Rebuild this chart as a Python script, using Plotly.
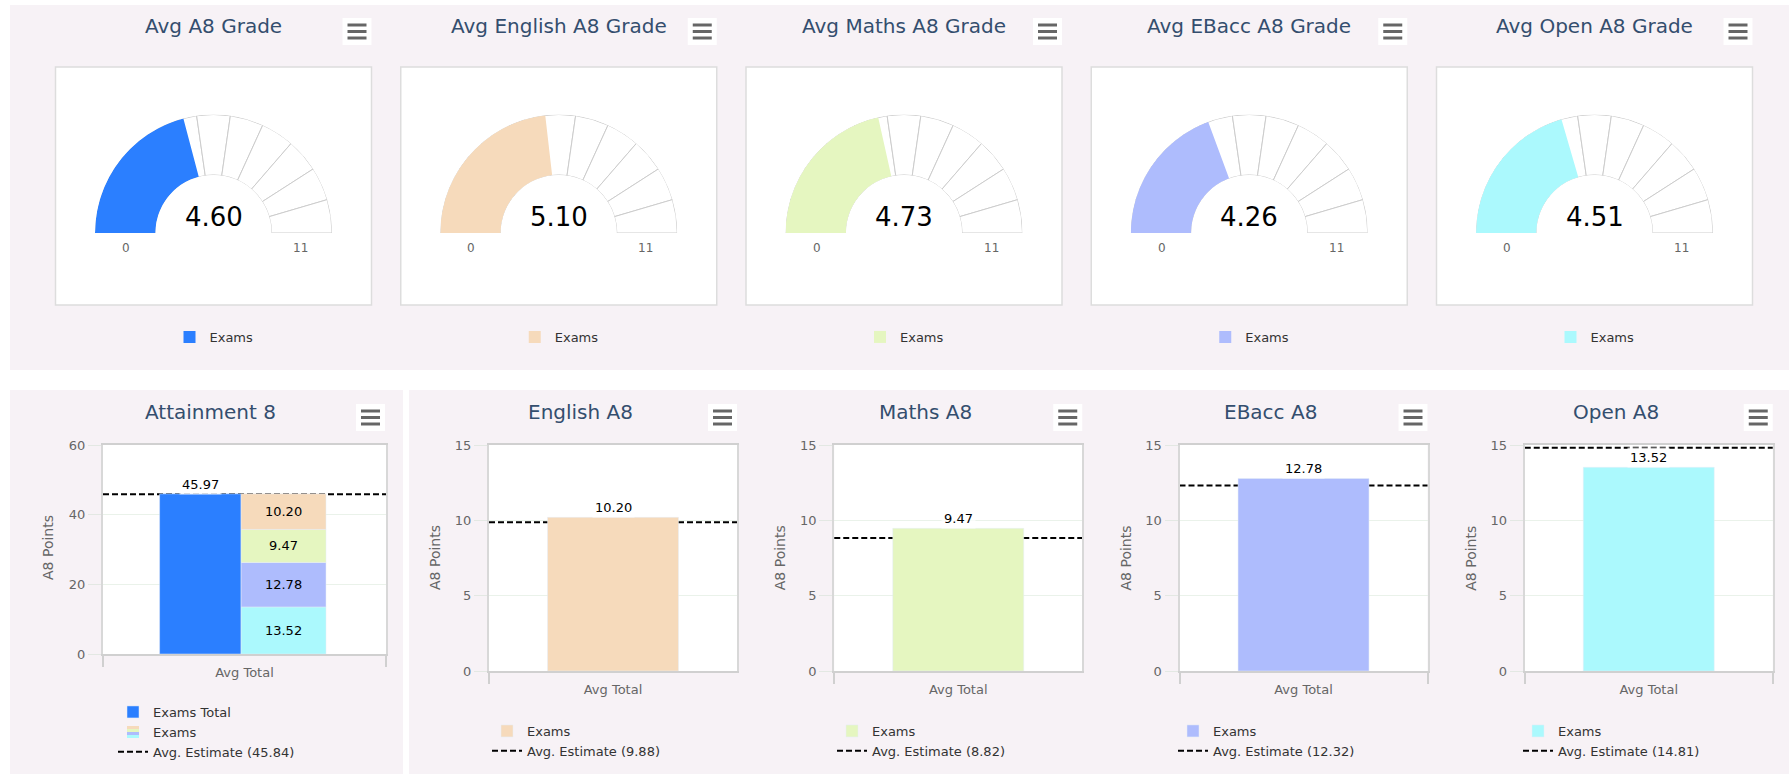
import plotly.graph_objects as go
import numpy as np

W, H = 1789, 774
FONT = "DejaVu Sans"
TITLE_COLOR = "#344e6e"
LABEL_COLOR = "#666666"
PANEL = "#f7f2f6"

# ---------------- data ----------------
gauge_titles = ["Avg A8 Grade", "Avg English A8 Grade", "Avg Maths A8 Grade",
                "Avg EBacc A8 Grade", "Avg Open A8 Grade"]
gauge_values = [4.60, 5.10, 4.73, 4.26, 4.51]
gauge_min, gauge_max = 0, 11
gauge_ticks = list(range(0, 12))
gauge_series = "Exams"

blue = "#2b7fff"
english_c = "#f6dabb"
maths_c = "#e5f6c0"
ebacc_c = "#aebcfd"
open_c = "#abf9fd"
gauge_colors = [blue, english_c, maths_c, ebacc_c, open_c]

category = "Avg Total"
a8_title = "Attainment 8"
a8_total = 45.97
a8_total_name = "Exams Total"
a8_parts = [13.52, 12.78, 9.47, 10.20]          # Open, EBacc, Maths, English (bottom to top)
a8_part_colors = [open_c, ebacc_c, maths_c, english_c]
a8_estimate = 45.84

subj_titles = ["English A8", "Maths A8", "EBacc A8", "Open A8"]
subj_values = [10.20, 9.47, 12.78, 13.52]
subj_estimates = [9.88, 8.82, 12.32, 14.81]
subj_colors = [english_c, maths_c, ebacc_c, open_c]
y_title = "A8 Points"


def px(x):
    return x / W


def py(y):
    return 1 - y / H


fig = go.Figure()
shapes = []
annotations = []
layout = {}


def text_at(text, x, y, size, color, angle=0):
    annotations.append(dict(text=text, x=px(x), y=py(y), xref="paper", yref="paper",
                            xanchor="center", yanchor="middle", textangle=angle,
                            showarrow=False, font=dict(family=FONT, size=size, color=color)))


# ---------------- panels ----------------
for (x0, y0, x1, y1) in [(10, 5, 1789, 370), (10, 390, 403, 774), (409, 390, 1789, 774)]:
    shapes.append(dict(type="rect", xref="paper", yref="paper", x0=px(x0), x1=px(x1),
                       y0=py(y1), y1=py(y0), fillcolor=PANEL, line=dict(width=0), layer="below"))


def menu_icon(xr, ytop):
    # white button with three grey bars
    shapes.append(dict(type="rect", xref="paper", yref="paper", x0=px(xr - 29), x1=px(xr),
                       y0=py(ytop + 27), y1=py(ytop), fillcolor="white", line=dict(width=0),
                       layer="below"))
    for k in range(3):
        yy = ytop + 7 + 6.5 * k
        shapes.append(dict(type="line", xref="paper", yref="paper", x0=px(xr - 24), x1=px(xr - 5),
                           y0=py(yy), y1=py(yy), line=dict(color="#666666", width=3), layer="below"))


# ---------------- gauges ----------------
deg = 180.0 / (gauge_max - gauge_min)
R_OUT = 118.5
for i in range(5):
    cx = 213.5 + 345.25 * i
    sub = "polar" if i == 0 else f"polar{i + 1}"
    leg = "legend" if i == 0 else f"legend{i + 1}"
    # white box
    shapes.append(dict(type="rect", xref="paper", yref="paper", x0=px(cx - 158), x1=px(cx + 158),
                       y0=py(305), y1=py(67), fillcolor="white",
                       line=dict(color="#dddddd", width=1.5), layer="below"))
    lo = gauge_ticks[:-1]
    hi = gauge_ticks[1:]
    fig.add_trace(go.Barpolar(
        r=[1] * len(lo), theta=[(a + b) / 2 * deg for a, b in zip(lo, hi)],
        width=[(b - a) * deg for a, b in zip(lo, hi)],
        marker=dict(color="white", line=dict(color="#cccccc", width=1)),
        showlegend=False, hoverinfo="skip", subplot=sub))
    v = gauge_values[i]
    fig.add_trace(go.Barpolar(
        r=[1], theta=[(v - gauge_min) / 2 * deg], width=[(v - gauge_min) * deg],
        marker=dict(color=gauge_colors[i], line=dict(width=0)),
        name=gauge_series, legend=leg, showlegend=True, subplot=sub))
    layout[sub] = dict(
        domain=dict(x=[px(cx - R_OUT), px(cx + R_OUT)], y=[py(233), py(233 - R_OUT)]),
        sector=[0, 180], hole=0.49, bgcolor="rgba(0,0,0,0)",
        radialaxis=dict(visible=False, range=[0, 1]),
        angularaxis=dict(visible=False, rotation=180, direction="clockwise"))
    layout[leg] = dict(x=px(cx - 44), y=py(322), xanchor="left", yanchor="top",
                       bgcolor="rgba(0,0,0,0)", font=dict(family=FONT, size=13, color="#333333"))
    text_at(gauge_titles[i], cx, 26, 20, TITLE_COLOR)
    text_at(f"{v:.2f}", cx, 217, 26, "black")
    text_at(str(gauge_min), cx - 87.5, 248, 12, LABEL_COLOR)
    text_at(str(gauge_max), cx + 87, 248, 12, LABEL_COLOR)
    menu_icon(cx + 158, 18)

# ---------------- bottom charts ----------------
axis_font = dict(family=FONT, size=13, color=LABEL_COLOR)


def xax(dom, anchor):
    return dict(domain=dom, anchor=anchor, type="category", range=[-0.5, 0.5],
                tickson="boundaries", ticks="outside", ticklen=11, tickwidth=2,
                tickcolor="#d0d0d0", showline=True, linecolor="#d0d0d0", linewidth=2,
                mirror=True, showgrid=False, zeroline=False, tickfont=axis_font,
                ticklabelstandoff=5, automargin=False)


def yax(dom, anchor, rng, dtick):
    return dict(domain=dom, anchor=anchor, range=rng, dtick=dtick, tick0=0, ticks="outside",
                ticklen=13, tickcolor="#e3e8e3", showline=True, linecolor="#d8d8d8",
                linewidth=2, mirror=True, showgrid=True, gridcolor="#eaf2ea",
                zeroline=False, tickfont=axis_font, automargin=False)


def plot_bg(xref, yref):
    shapes.append(dict(type="rect", xref=f"{xref} domain", yref=f"{yref} domain", x0=0, x1=1,
                       y0=0, y1=1, fillcolor="white", line=dict(width=0), layer="below"))


def est_line(xref, yref, est, leg):
    # drawn in the lower shape layer, i.e. behind the bars
    shapes.append(dict(type="line", xref=f"{xref} domain", yref=yref, x0=0, x1=1, y0=est, y1=est,
                       line=dict(color="black", width=2, dash="6px,3px"), layer="below",
                       showlegend=True, name=f"Avg. Estimate ({est:.2f})", legend=leg,
                       legendrank=10))


def value_label(xref, yref, xpos, val):
    annotations.append(dict(text=f"{val:.2f}", x=xpos, y=val, xref=xref, yref=yref,
                            xanchor="center", yanchor="bottom", yshift=-1, showarrow=False,
                            bgcolor="rgba(255,255,255,0.7)", borderpad=2,
                            font=dict(family=FONT, size=13, color="black")))


# Attainment 8
layout["xaxis"] = xax([px(103), px(386)], "y")
layout["yaxis"] = yax([py(654), py(445)], "x", [0, 60], 20)
plot_bg("x", "y")
fig.add_trace(go.Bar(x=[category], y=[a8_total], name=a8_total_name, marker=dict(color=blue),
                     offset=-0.3, width=0.288, xaxis="x", yaxis="y", legend="legend6",
                     legendrank=1))
bases = np.concatenate([[0.0], np.cumsum(a8_parts)[:-1]])
for part, base, col in zip(a8_parts, bases, a8_part_colors):
    fig.add_trace(go.Bar(x=[category], y=[part], base=[base], marker=dict(color=col),
                         offset=-0.012, width=0.3, text=[f"{part:.2f}"], textposition="inside",
                         insidetextanchor="middle", textangle=0,
                         textfont=dict(family=FONT, size=13, color="black"),
                         showlegend=False, xaxis="x", yaxis="y"))
fig.add_trace(go.Bar(x=[category], y=[0], name=gauge_series,
                     marker=dict(color="rgba(0,0,0,0)", line=dict(width=0)),
                     xaxis="x", yaxis="y", legend="legend6", legendrank=2, hoverinfo="skip"))
est_line("x", "y", a8_estimate, "legend6")
value_label("x", "y", -0.3 + 0.288 / 2, a8_total)
text_at(a8_title, 210, 412, 20, TITLE_COLOR)
text_at(y_title, 48, 548, 14, LABEL_COLOR, -90)
menu_icon(385, 404)
layout["legend6"] = dict(x=px(113), y=py(697), xanchor="left", yanchor="top",
                         bgcolor="rgba(0,0,0,0)", font=dict(family=FONT, size=13, color="#333333"),
                         traceorder="normal")
# striped legend swatch for the stacked "Exams" series
sw_x, sw_y = 133, 732
for k, col in enumerate(reversed(a8_part_colors)):
    shapes.append(dict(type="rect", xref="paper", yref="paper", x0=px(sw_x - 6), x1=px(sw_x + 6),
                       y0=py(sw_y - 6 + 3 * (k + 1)), y1=py(sw_y - 6 + 3 * k),
                       fillcolor=col, line=dict(width=0), layer="below"))

legend_sym_x = [507, 852, 1193, 1538]
for j in range(4):
    n = j + 2
    xa, ya = f"x{n}", f"y{n}"
    left = 489 + 345.25 * j
    layout[f"xaxis{n}"] = xax([px(left), px(left + 248)], ya)
    layout[f"yaxis{n}"] = yax([py(671), py(445)], xa, [0, 15], 5)
    plot_bg(xa, ya)
    leg = f"legend{7 + j}"
    fig.add_trace(go.Bar(x=[category], y=[subj_values[j]], name=gauge_series,
                         marker=dict(color=subj_colors[j]), width=0.528,
                         xaxis=xa, yaxis=ya, legend=leg, legendrank=1))
    est_line(xa, ya, subj_estimates[j], leg)
    value_label(xa, ya, 0, subj_values[j])
    text_at(subj_titles[j], 580 + 345.25 * j, 412, 20, TITLE_COLOR)
    text_at(y_title, 435 + 345.25 * j, 558, 14, LABEL_COLOR, -90)
    menu_icon(left + 248, 404)
    layout[leg] = dict(x=px(legend_sym_x[j] - 20), y=py(716), xanchor="left", yanchor="top",
                       bgcolor="rgba(0,0,0,0)", font=dict(family=FONT, size=13, color="#333333"))

fig.update_layout(
    width=W, height=H, margin=dict(l=0, r=0, t=0, b=0, autoexpand=False),
    paper_bgcolor="white", plot_bgcolor="rgba(0,0,0,0)",
    barmode="overlay", showlegend=True,
    font=dict(family=FONT, color="#333333"),
    shapes=shapes, annotations=annotations,
    **layout)

fig.write_html("out.html", config={"displayModeBar": False},
               post_script="document.body.style.margin='0px';")
